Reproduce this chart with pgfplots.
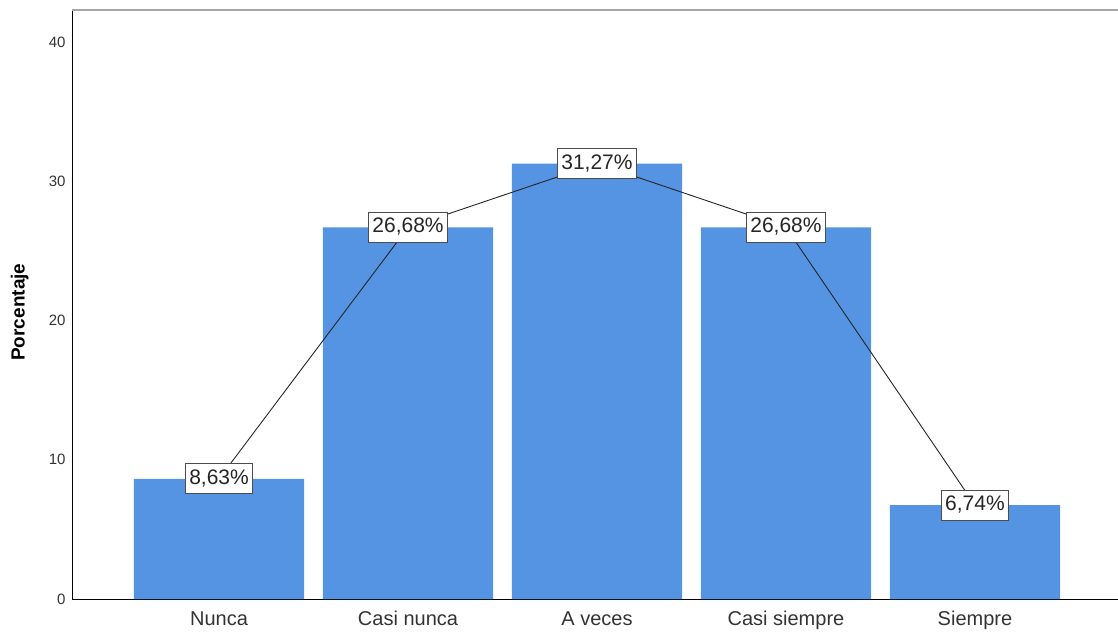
\documentclass[border=0pt]{standalone}
\usepackage{pgfplots}
\pgfplotsset{compat=1.18}
\usepackage{fontspec}
\setmainfont{Liberation Sans}
\definecolor{barblue}{RGB}{85,148,226}
\begin{document}
\begin{tikzpicture}
\begin{axis}[
  at={(0,0)}, anchor=south west,
  scale only axis, width=1046pt, height=589pt,
  xmin=-0.778, xmax=4.757, ymin=0, ymax=42.3,
  axis x line*=bottom, axis y line*=left,
  axis line style={black, line width=1pt},
  x axis line style={-}, y axis line style={-},
  major tick length=0pt,
  xtick={0,1,2,3,4},
  xticklabels={Nunca,Casi nunca,A veces,Casi siempre,Siempre},
  ytick={0,10,20,30,40},
  /pgf/number format/assume math mode=true,
  xticklabel style={font=\fontsize{20}{22}\selectfont, color=black!80, text height=15pt, text depth=4pt, yshift=-8pt},
  yticklabel style={font=\fontsize{15}{17}\selectfont, color=black!80, xshift=-3pt},
  ylabel={\textbf{Porcentaje}},
  ylabel style={font=\fontsize{19}{21}\selectfont, at={(axis description cs:-0.050,0.487)}, anchor=center},
  clip=false,
]
\addplot[ybar, bar width=0.9, fill=barblue, draw=none] coordinates {(0,8.63) (1,26.68) (2,31.27) (3,26.68) (4,6.74)};
\addplot[black!85, line width=0.9pt, mark=none,
  point meta=explicit symbolic,
  nodes near coords,
  every node near coord/.style={anchor=center, fill=white, draw=black!70, line width=1pt, inner xsep=4pt, inner ysep=5.5pt, text height=15pt, text depth=4pt, font=\fontsize{21}{23}\selectfont, text=black!85}]
  coordinates {(0,8.63) [8,63\%] (1,26.68) [26,68\%] (2,31.27) [31,27\%] (3,26.68) [26,68\%] (4,6.74) [6,74\%]};
\draw[black!35, line width=2.5pt] (rel axis cs:0,1) -- (rel axis cs:1,1);
\end{axis}
\pgfresetboundingbox
\path[use as bounding box] (-72pt,-35pt) rectangle (1046pt,599pt);
\end{tikzpicture}
\end{document}
